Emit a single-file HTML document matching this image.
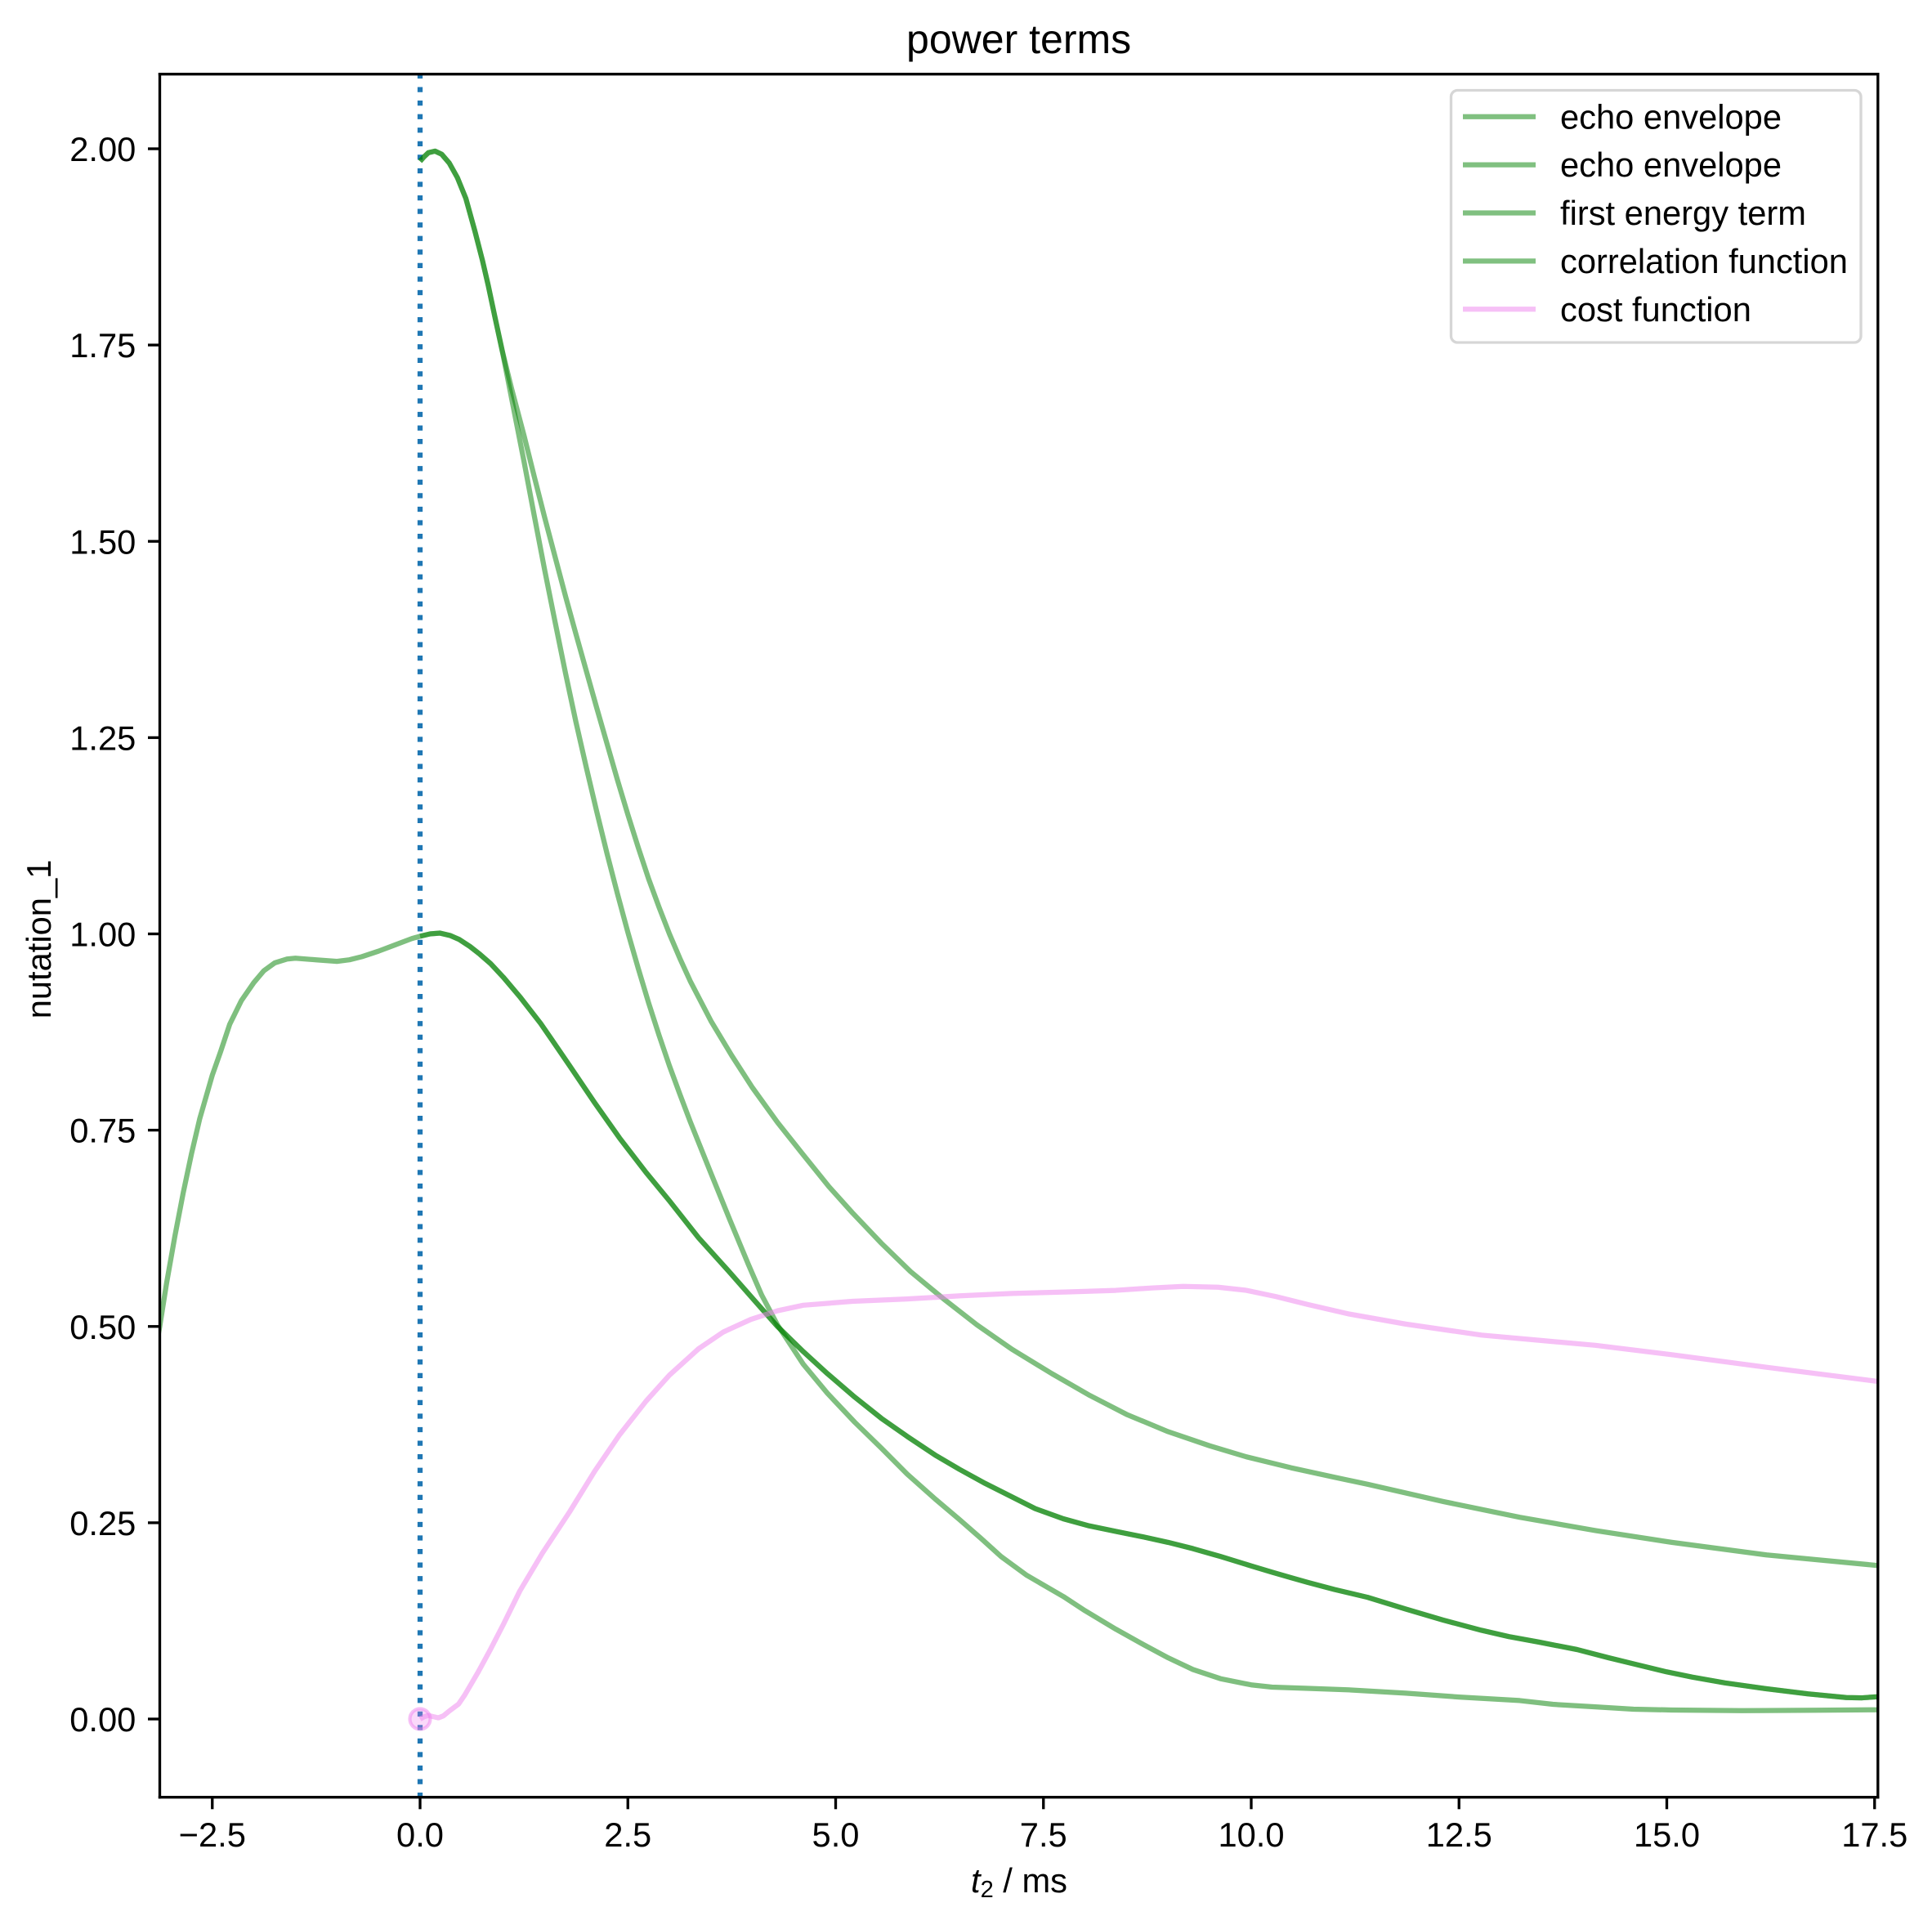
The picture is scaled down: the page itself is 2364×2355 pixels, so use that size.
<!DOCTYPE html>
<html>
<head>
<meta charset="utf-8">
<style>
html,body{margin:0;padding:0;background:#ffffff;}
svg{display:block;}
text{font-family:"Liberation Sans",Arial,sans-serif;fill:#000;}
</style>
</head>
<body>
<svg width="2364" height="2355" viewBox="0 0 2364 2355" xmlns="http://www.w3.org/2000/svg">
<defs>
<clipPath id="ax"><rect x="195.5" y="90.7" width="2102.3" height="2108"/></clipPath>
</defs>
<rect x="0" y="0" width="2364" height="2355" fill="#ffffff"/>

<!-- title -->
<text x="1246.6" y="65" font-size="50" text-anchor="middle">power terms</text>

<g clip-path="url(#ax)">
  <!-- axvline dotted -->
  <line x1="514" y1="2198.7" x2="514" y2="90.7" stroke="#1f77b4" stroke-width="6.25" stroke-dasharray="6.25 10.31" stroke-dashoffset="0.6"/>

  <g transform="matrix(101.7 0 0 -960.5 514 2103)" fill="none" stroke-linejoin="round" stroke-linecap="butt">
    <!-- echo envelope full -->
    <polyline vector-effect="non-scaling-stroke" stroke="#008000" stroke-opacity="0.5" stroke-width="6.25" points="-3.2,0.46 -3.132,0.50 -3.05,0.555 -2.95,0.615 -2.85,0.67 -2.75,0.72 -2.65,0.765 -2.5,0.82 -2.4,0.85 -2.29,0.885 -2.15,0.915 -2.0,0.938 -1.88,0.953 -1.75,0.963 -1.6,0.968 -1.5,0.969 -1.25,0.967 -1.0,0.965 -0.85,0.967 -0.7,0.971 -0.5,0.978 -0.3,0.986 -0.1,0.994 0,0.997 0.12,1.0 0.24,1.001 0.36,0.998 0.47,0.993 0.6,0.984 0.72,0.974 0.85,0.962 1.0,0.945 1.2,0.92 1.45,0.886 1.6,0.863 1.8,0.832 2.1,0.785 2.4,0.74 2.72,0.696 3.0,0.66 3.35,0.613 3.7,0.572 4.04,0.531 4.3,0.50 4.61,0.468 4.9,0.44 5.23,0.41 5.55,0.383 5.86,0.36 6.2,0.336 6.49,0.318 6.8,0.3 7.12,0.283 7.4,0.268 7.74,0.255 8.05,0.246 8.37,0.239 8.7,0.232 9.0,0.225 9.3,0.217 9.63,0.207 10.0,0.195 10.25,0.187 10.48,0.18 10.68,0.174 11.0,0.165 11.4,0.155 11.86,0.14 12.31,0.126 12.77,0.113 13.1,0.105 13.46,0.098 13.92,0.0885 14.3,0.078 14.61,0.070 15.0,0.06 15.31,0.0533 15.7,0.046 16.2,0.0385 16.7,0.032 17.16,0.0273 17.35,0.027 17.54,0.0284 17.6,0.029"/>
    <!-- echo envelope from 0 -->
    <polyline vector-effect="non-scaling-stroke" stroke="#008000" stroke-opacity="0.5" stroke-width="6.25" points="0,0.997 0.12,1.0 0.24,1.001 0.36,0.998 0.47,0.993 0.6,0.984 0.72,0.974 0.85,0.962 1.0,0.945 1.2,0.92 1.45,0.886 1.6,0.863 1.8,0.832 2.1,0.785 2.4,0.74 2.72,0.696 3.0,0.66 3.35,0.613 3.7,0.572 4.04,0.531 4.3,0.50 4.61,0.468 4.9,0.44 5.23,0.41 5.55,0.383 5.86,0.36 6.2,0.336 6.49,0.318 6.8,0.3 7.12,0.283 7.4,0.268 7.74,0.255 8.05,0.246 8.37,0.239 8.7,0.232 9.0,0.225 9.3,0.217 9.63,0.207 10.0,0.195 10.25,0.187 10.48,0.18 10.68,0.174 11.0,0.165 11.4,0.155 11.86,0.14 12.31,0.126 12.77,0.113 13.1,0.105 13.46,0.098 13.92,0.0885 14.3,0.078 14.61,0.070 15.0,0.06 15.31,0.0533 15.7,0.046 16.2,0.0385 16.7,0.032 17.16,0.0273 17.35,0.027 17.54,0.0284 17.6,0.029"/>
    <!-- first energy term -->
    <polyline vector-effect="non-scaling-stroke" stroke="#008000" stroke-opacity="0.5" stroke-width="6.25" points="0,1.984 0.05,1.99 0.1,1.995 0.18,1.997 0.26,1.993 0.35,1.982 0.45,1.963 0.55,1.937 0.66,1.895 0.75,1.858 0.82,1.826 0.9,1.786 0.99,1.742 1.1,1.695 1.25,1.635 1.375,1.582 1.5,1.53 1.625,1.48 1.75,1.43 1.875,1.382 2.0,1.335 2.125,1.288 2.25,1.242 2.375,1.196 2.5,1.152 2.625,1.11 2.75,1.07 2.875,1.034 3.0,1.0 3.125,0.969 3.25,0.94 3.5,0.889 3.75,0.845 4.0,0.804 4.30,0.76 4.6,0.72 4.92,0.678 5.2,0.645 5.55,0.606 5.9,0.57 6.3,0.535 6.7,0.502 7.12,0.471 7.6,0.44 8.06,0.412 8.5,0.388 9.0,0.366 9.5,0.348 9.94,0.334 10.48,0.32 11.0,0.308 11.4,0.299 12.31,0.277 13.23,0.257 14.14,0.240 15.06,0.225 16.2,0.209 17.54,0.1955 17.6,0.195"/>
    <!-- correlation function -->
    <polyline vector-effect="non-scaling-stroke" stroke="#008000" stroke-opacity="0.5" stroke-width="6.25" points="0,1.984 0.05,1.99 0.1,1.995 0.18,1.997 0.26,1.993 0.35,1.982 0.45,1.963 0.55,1.937 0.66,1.895 0.75,1.858 0.82,1.826 0.9,1.786 0.99,1.742 1.12,1.672 1.25,1.602 1.375,1.532 1.5,1.463 1.625,1.397 1.75,1.332 1.875,1.27 2.0,1.212 2.125,1.156 2.25,1.102 2.375,1.051 2.5,1.002 2.625,0.956 2.75,0.912 2.875,0.871 3.0,0.832 3.125,0.796 3.25,0.761 3.5,0.695 3.73,0.635 3.95,0.579 4.11,0.54 4.3,0.502 4.61,0.452 4.9,0.415 5.23,0.378 5.55,0.345 5.86,0.312 6.2,0.28 6.49,0.254 6.75,0.23 6.99,0.207 7.3,0.183 7.74,0.156 8.0,0.138 8.37,0.1145 8.7,0.095 9.0,0.078 9.3,0.063 9.63,0.0514 10.0,0.0435 10.25,0.0406 10.68,0.039 11.2,0.037 11.86,0.0329 12.5,0.028 13.23,0.0235 13.63,0.0187 14.14,0.0155 14.6,0.0125 15.06,0.0115 15.9,0.0107 16.8,0.0112 17.6,0.0118"/>
    <!-- cost function -->
    <polyline vector-effect="non-scaling-stroke" stroke="#ee82ee" stroke-opacity="0.5" stroke-width="6.25" points="0,0 0.05,0.003 0.1,0.0045 0.16,0.003 0.22,0.0015 0.28,0.004 0.354,0.0104 0.463,0.019 0.54,0.031 0.617,0.045 0.7,0.06 0.846,0.0885 1.0,0.12 1.2,0.163 1.47,0.211 1.8,0.264 2.1,0.3155 2.4,0.362 2.72,0.405 3.0,0.438 3.35,0.4715 3.65,0.493 3.98,0.509 4.3,0.52 4.61,0.527 5.2,0.532 5.86,0.535 6.5,0.539 7.12,0.542 7.8,0.544 8.37,0.546 8.8,0.549 9.18,0.551 9.6,0.55 9.94,0.546 10.3,0.538 10.68,0.528 11.17,0.516 11.86,0.503 12.77,0.489 13.5,0.482 14.14,0.476 15.06,0.464 16.2,0.448 17.54,0.43 17.6,0.429"/>
  </g>
  <!-- marker at origin -->
  <circle cx="514" cy="2103" r="12.5" fill="#ee82ee" fill-opacity="0.3" stroke="#ee82ee" stroke-opacity="0.5" stroke-width="4.17"/>
</g>

<!-- spines -->
<g stroke="#000" stroke-width="3.33" fill="none" stroke-linecap="square">
  <line x1="195.5" y1="90.7" x2="195.5" y2="2198.7"/>
  <line x1="2297.8" y1="90.7" x2="2297.8" y2="2198.7"/>
  <line x1="195.5" y1="90.7" x2="2297.8" y2="90.7"/>
  <line x1="195.5" y1="2198.7" x2="2297.8" y2="2198.7"/>
</g>

<!-- x ticks -->
<g stroke="#000" stroke-width="3.33">
  <line x1="259.75" y1="2198.7" x2="259.75" y2="2213.3"/>
  <line x1="514" y1="2198.7" x2="514" y2="2213.3"/>
  <line x1="768.25" y1="2198.7" x2="768.25" y2="2213.3"/>
  <line x1="1022.5" y1="2198.7" x2="1022.5" y2="2213.3"/>
  <line x1="1276.75" y1="2198.7" x2="1276.75" y2="2213.3"/>
  <line x1="1531" y1="2198.7" x2="1531" y2="2213.3"/>
  <line x1="1785.25" y1="2198.7" x2="1785.25" y2="2213.3"/>
  <line x1="2039.5" y1="2198.7" x2="2039.5" y2="2213.3"/>
  <line x1="2293.75" y1="2198.7" x2="2293.75" y2="2213.3"/>
</g>
<g font-size="41.67" text-anchor="middle">
  <text x="259.75" y="2259">−2.5</text>
  <text x="514" y="2259">0.0</text>
  <text x="768.25" y="2259">2.5</text>
  <text x="1022.5" y="2259">5.0</text>
  <text x="1276.75" y="2259">7.5</text>
  <text x="1531" y="2259">10.0</text>
  <text x="1785.25" y="2259">12.5</text>
  <text x="2039.5" y="2259">15.0</text>
  <text x="2293.75" y="2259">17.5</text>
</g>

<!-- y ticks -->
<g stroke="#000" stroke-width="3.33">
  <line x1="181" y1="2103" x2="195.5" y2="2103"/>
  <line x1="181" y1="1862.9" x2="195.5" y2="1862.9"/>
  <line x1="181" y1="1622.75" x2="195.5" y2="1622.75"/>
  <line x1="181" y1="1382.6" x2="195.5" y2="1382.6"/>
  <line x1="181" y1="1142.5" x2="195.5" y2="1142.5"/>
  <line x1="181" y1="902.4" x2="195.5" y2="902.4"/>
  <line x1="181" y1="662.25" x2="195.5" y2="662.25"/>
  <line x1="181" y1="422.1" x2="195.5" y2="422.1"/>
  <line x1="181" y1="182" x2="195.5" y2="182"/>
</g>
<g font-size="41.67" text-anchor="end">
  <text x="166.3" y="2118">0.00</text>
  <text x="166.3" y="1877.9">0.25</text>
  <text x="166.3" y="1637.75">0.50</text>
  <text x="166.3" y="1397.6">0.75</text>
  <text x="166.3" y="1157.5">1.00</text>
  <text x="166.3" y="917.4">1.25</text>
  <text x="166.3" y="677.25">1.50</text>
  <text x="166.3" y="437.1">1.75</text>
  <text x="166.3" y="197">2.00</text>
</g>

<!-- axis labels -->
<text x="1247" y="2315" font-size="41.67" text-anchor="middle"><tspan font-style="italic">t</tspan><tspan font-size="29" dy="6">2</tspan><tspan dy="-6"> / ms</tspan></text>
<text transform="translate(62,1149) rotate(-90)" font-size="41.67" text-anchor="middle">nutation_1</text>

<!-- legend -->
<rect x="1775.5" y="110.5" width="501.5" height="308.5" rx="8" ry="8" fill="#ffffff" fill-opacity="0.8" stroke="#cccccc" stroke-opacity="0.8" stroke-width="3.33"/>
<g stroke-width="6.25">
  <line x1="1790" y1="142.7" x2="1879" y2="142.7" stroke="#80c080"/>
  <line x1="1790" y1="201.6" x2="1879" y2="201.6" stroke="#80c080"/>
  <line x1="1790" y1="260.5" x2="1879" y2="260.5" stroke="#80c080"/>
  <line x1="1790" y1="319.4" x2="1879" y2="319.4" stroke="#80c080"/>
  <line x1="1790" y1="378.3" x2="1879" y2="378.3" stroke="#f6c0f6"/>
</g>
<g font-size="41.67">
  <text x="1909" y="157.3">echo envelope</text>
  <text x="1909" y="216.2">echo envelope</text>
  <text x="1909" y="275.1">first energy term</text>
  <text x="1909" y="334">correlation function</text>
  <text x="1909" y="392.9">cost function</text>
</g>
</svg>
</body>
</html>
